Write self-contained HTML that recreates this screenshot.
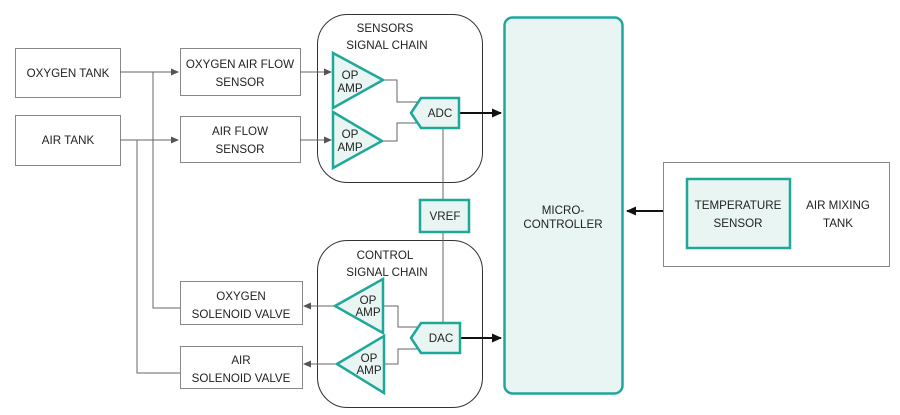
<!DOCTYPE html>
<html><head><meta charset="utf-8"><style>
html,body{margin:0;padding:0;background:#fff;}
svg{display:block;}
text{font-family:"Liberation Sans",sans-serif;font-size:11.6px;fill:#222;text-anchor:middle;}
</style></head><body>
<svg width="900" height="415" viewBox="0 0 900 415" xmlns="http://www.w3.org/2000/svg">
<defs>
<marker id="ag" markerWidth="8" markerHeight="8" refX="7" refY="4" orient="auto" markerUnits="userSpaceOnUse"><path d="M0,0.5 L8,4 L0,7.5z" fill="#555"/></marker>
<marker id="ab" markerWidth="10" markerHeight="10" refX="9" refY="5" orient="auto" markerUnits="userSpaceOnUse"><path d="M0,0.5 L10,5 L0,9.5z" fill="#111"/></marker>
</defs>
<g fill="#fff" stroke="#888" stroke-width="1">
<rect x="15.5" y="48.5" width="105" height="49"/>
<rect x="15.5" y="115.5" width="105" height="50"/>
<rect x="180.5" y="48.5" width="120" height="47"/>
<rect x="180.5" y="116.5" width="120" height="46"/>
<rect x="180.5" y="281.5" width="122" height="43"/>
<rect x="180.5" y="346.5" width="122" height="42"/>
<rect x="663.5" y="162.5" width="226" height="104"/>
</g>
<g fill="none" stroke="#333" stroke-width="1">
<rect x="317.5" y="14.5" width="165" height="168" rx="30"/>
<rect x="317.5" y="240.5" width="165" height="167" rx="30"/>
</g>
<g fill="none" stroke="#666" stroke-width="1">
<path d="M120,72 H178" marker-end="url(#ag)"/>
<path d="M120,140 H178" marker-end="url(#ag)"/>
<path d="M153,72 V308 H180"/>
<path d="M137,140 V373 H180"/>
<path d="M300,72 H331" marker-end="url(#ag)"/>
<path d="M300,140 H331" marker-end="url(#ag)"/>
<path d="M383,80 H397 V102 H420"/>
<path d="M382,141 H397 V123 H420"/>
<path d="M443,128 V200"/>
<path d="M443,232 V323"/>
<path d="M335,306 H304" marker-end="url(#ag)"/>
<path d="M337,364 H304" marker-end="url(#ag)"/>
<path d="M383,306 H398 V327 H420"/>
<path d="M384,364 H398 V349 H420"/>
</g>
<g fill="none" stroke="#111" stroke-width="2">
<path d="M459,113 H501" marker-end="url(#ab)"/>
<path d="M460,338 H501" marker-end="url(#ab)"/>
<path d="M663,211 H627" marker-end="url(#ab)"/>
</g>
<g fill="#e8f5f3" stroke="#1fa89a" stroke-width="2.5">
<rect x="504.5" y="17.5" width="118" height="376" rx="8"/>
<polygon points="333,53 383,80 333,108"/>
<polygon points="333,112 382,141 333,168"/>
<polygon points="335,306 383,279 383,333"/>
<polygon points="337,364 384,336 384,393"/>
<polygon points="411,113 421,98 459,98 459,128 421,128"/>
<polygon points="411,338 421,323 460,323 460,353 421,353"/>
<rect x="420" y="200" width="49" height="32"/>
<rect x="687" y="179" width="103" height="69"/>
</g>
<text x="68" y="77">OXYGEN TANK</text>
<text x="68" y="144">AIR TANK</text>
<text x="240" y="68">OXYGEN AIR FLOW</text>
<text x="240" y="86">SENSOR</text>
<text x="240" y="135">AIR FLOW</text>
<text x="240" y="153">SENSOR</text>
<text x="241" y="300">OXYGEN</text>
<text x="241" y="318">SOLENOID VALVE</text>
<text x="241" y="364">AIR</text>
<text x="241" y="382">SOLENOID VALVE</text>
<text x="385" y="32">SENSORS</text>
<text x="387" y="49">SIGNAL CHAIN</text>
<text x="385" y="259">CONTROL</text>
<text x="387" y="276">SIGNAL CHAIN</text>
<text x="350" y="79">OP</text><text x="350" y="92">AMP</text>
<text x="350" y="138">OP</text><text x="350" y="151">AMP</text>
<text x="368" y="304">OP</text><text x="368" y="316">AMP</text>
<text x="369" y="362">OP</text><text x="369" y="374">AMP</text>
<text x="440" y="117">ADC</text>
<text x="441" y="342">DAC</text>
<text x="445" y="220">VREF</text>
<text x="563" y="214">MICRO-</text>
<text x="563" y="228">CONTROLLER</text>
<text x="738" y="209">TEMPERATURE</text>
<text x="738" y="227">SENSOR</text>
<text x="838" y="209">AIR MIXING</text>
<text x="838" y="227">TANK</text>
</svg>
</body></html>
